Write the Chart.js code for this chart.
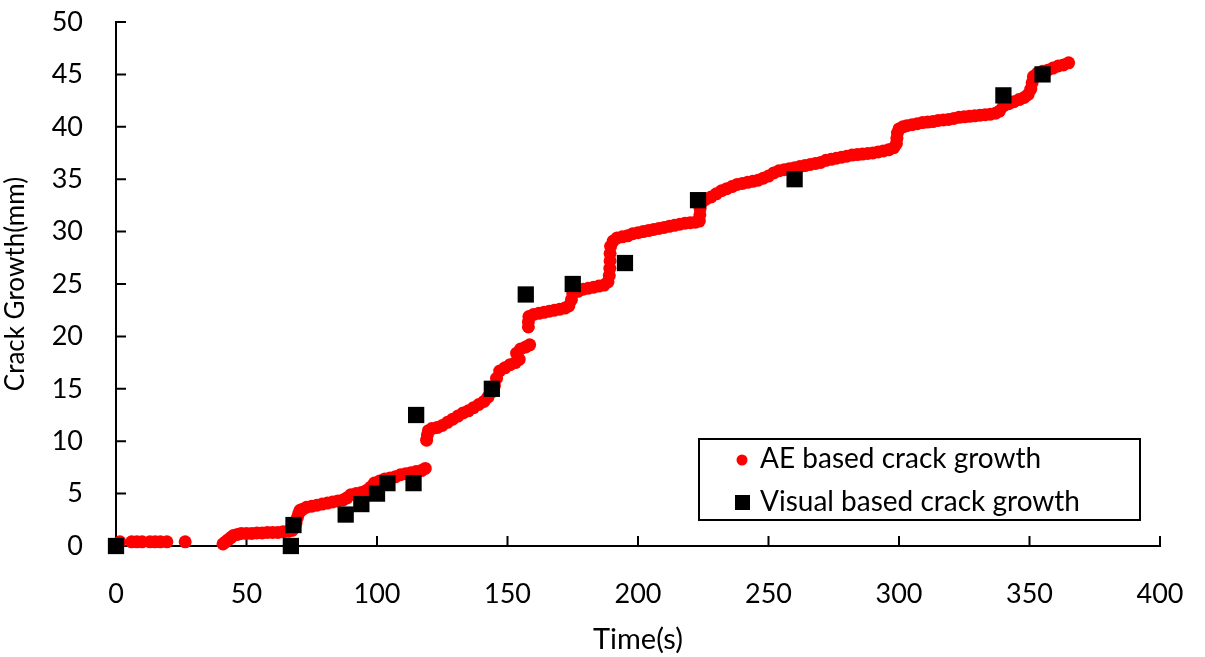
<!DOCTYPE html>
<html>
<head>
<meta charset="utf-8">
<script src="https://cdn.jsdelivr.net/npm/chart.js@4.4.1/dist/chart.umd.min.js"></script>
<style>
  html, body { margin: 0; padding: 0; background: #fff; }
  #wrap { width: 1205px; height: 657px; }
</style>
</head>
<body>
<div id="wrap"><canvas id="grafico"></canvas></div>
<script>
// Crecimiento de grieta medido por emisión acústica (AE)
const aeTime = [
  1.5, 6, 8, 10, 13, 15, 17, 19.5, 26.5,
  41, 42, 43, 44, 45, 46.5, 48, 50, 52, 54, 56, 58, 60, 62, 64, 66, 67.5, 68.5, 69, 69.5, 70, 70.5,
  71.5, 73, 75, 77, 79, 81, 83, 85, 87, 88.5, 90, 92, 94, 96, 97.5, 99, 101, 103, 105, 107, 109, 111, 113, 115, 117, 118.5,
  119, 119.3, 119.7, 121, 123, 125, 127, 129, 131, 133, 135, 137, 139, 141, 142.5, 144, 145, 145.8, 147, 149, 151, 153, 154.5, 153.5, 155, 157, 158.5,
  158, 158, 158.2, 160, 162, 164, 166, 168, 170, 172, 173.5, 174.5, 175, 177, 179, 181, 183, 185, 187, 188.5, 189, 189.2, 189.3, 189.3, 189.5, 190.5, 192,
  194, 196, 198, 200, 202, 204, 206, 208, 210, 212, 214, 216, 218, 220, 222, 223.5, 223.7, 223.8, 224.5, 226, 228, 230, 232, 234, 236, 238,
  240, 242, 244, 246, 248, 250, 252, 254, 256, 258, 260, 262, 264, 266, 268, 270, 272, 274, 276, 278, 280, 282, 284, 286, 288, 290, 292, 294, 296, 298,
  299, 299.2, 299.4, 300, 301.5, 303, 305, 307, 309, 311, 313, 315, 317, 319, 321, 323, 325, 327, 329, 331, 333, 335, 337, 338.5,
  340, 342, 344, 346, 348, 349.5, 350.5, 351, 351.5, 353, 355, 357, 359, 361, 363, 365
];
const aeGrowth = [
  0.4, 0.4, 0.4, 0.4, 0.4, 0.4, 0.4, 0.4, 0.4,
  0.2, 0.4, 0.6, 0.8, 1.0, 1.1, 1.2, 1.2, 1.2, 1.25, 1.25, 1.3, 1.3, 1.3, 1.35, 1.4, 1.5, 1.8, 2.2, 2.7, 3.1, 3.4,
  3.5, 3.7, 3.8, 3.9, 4.0, 4.1, 4.2, 4.3, 4.4, 4.6, 4.9, 5.0, 5.1, 5.3, 5.6, 6.0, 6.2, 6.4, 6.5, 6.6, 6.8, 6.9, 7.0, 7.1, 7.2, 7.4,
  10.1, 10.6, 11.0, 11.2, 11.3, 11.5, 11.8, 12.1, 12.4, 12.7, 12.9, 13.2, 13.5, 13.8, 14.2, 14.7, 15.3, 16.0, 16.7, 17.0, 17.3, 17.5, 17.8, 18.4, 18.8, 19.0, 19.2,
  20.9, 21.4, 21.9, 22.1, 22.2, 22.3, 22.4, 22.5, 22.6, 22.7, 22.9, 23.5, 24.1, 24.3, 24.5, 24.6, 24.7, 24.8, 24.9, 25.2, 25.8, 26.5, 27.2, 27.9, 28.6, 29.1, 29.4,
  29.5, 29.6, 29.8, 29.9, 30.0, 30.1, 30.2, 30.3, 30.4, 30.5, 30.6, 30.7, 30.8, 30.85, 30.9, 31.0, 31.6, 32.2, 32.8, 33.1, 33.3, 33.6, 33.9, 34.1, 34.3, 34.5,
  34.6, 34.7, 34.8, 34.9, 35.1, 35.3, 35.6, 35.8, 35.9, 36.0, 36.1, 36.2, 36.3, 36.4, 36.5, 36.6, 36.8, 36.9, 37.0, 37.1, 37.2, 37.3, 37.35, 37.4, 37.45, 37.5, 37.6, 37.7, 37.8, 38.0,
  38.4, 38.9, 39.4, 39.8, 40.0, 40.1, 40.2, 40.3, 40.4, 40.45, 40.5, 40.6, 40.65, 40.7, 40.8, 40.9, 40.95, 41.0, 41.05, 41.1, 41.15, 41.2, 41.3, 41.5,
  42.0, 42.2, 42.4, 42.6, 42.8, 43.1, 43.6, 44.2, 44.8, 45.1, 45.3, 45.4, 45.6, 45.8, 45.9, 46.1
];

// Crecimiento de grieta medido visualmente
const visualTime = [0, 67, 68, 88, 94, 100, 104, 114, 115, 144, 157, 175, 195, 223, 260, 340, 355];
const visualGrowth = [0, 0, 2, 3, 4, 5, 6, 6, 12.5, 15, 24, 25, 27, 33, 35, 43, 45];

// Marcas de los ejes
const xTicks = [0, 50, 100, 150, 200, 250, 300, 350, 400];
const yTicks = [0, 5, 10, 15, 20, 25, 30, 35, 40, 45, 50];

const fuente = 'Lato, "DejaVu Sans", sans-serif';

const aePuntos = aeTime.map((t, i) => ({ x: t, y: aeGrowth[i] }));
const visualPuntos = visualTime.map((t, i) => ({ x: t, y: visualGrowth[i] }));

// Ticks hacia dentro del área del gráfico
const ticksInternos = {
  id: 'ticksInternos',
  beforeDatasetsDraw(chart) {
    const { ctx, scales: { x, y } } = chart;
    ctx.save();
    ctx.strokeStyle = '#000';
    ctx.lineWidth = 2;
    ctx.beginPath();
    xTicks.forEach(v => {
      const px = x.getPixelForValue(v);
      ctx.moveTo(px, y.bottom);
      ctx.lineTo(px, y.bottom - 10);
    });
    yTicks.forEach(v => {
      const py = y.getPixelForValue(v);
      ctx.moveTo(x.left, py);
      ctx.lineTo(x.left + 10, py);
    });
    ctx.stroke();
    ctx.restore();
  }
};

// Leyenda con recuadro dentro del gráfico
const leyenda = {
  id: 'leyenda',
  afterDraw(chart) {
    const ctx = chart.ctx;
    ctx.save();
    ctx.fillStyle = '#fff';
    ctx.fillRect(699, 439, 441, 81);
    ctx.strokeStyle = '#000';
    ctx.lineWidth = 2;
    ctx.strokeRect(699, 439, 441, 81);

    ctx.fillStyle = '#ff0000';
    ctx.beginPath();
    ctx.arc(742, 460, 5.5, 0, Math.PI * 2);
    ctx.fill();
    ctx.fillStyle = '#000';
    ctx.fillRect(735, 495, 15, 15);

    ctx.font = '28px ' + fuente;
    ctx.textBaseline = 'middle';
    ctx.textAlign = 'left';
    ctx.fillText('AE based crack growth', 760, 459);
    ctx.fillText('Visual based crack growth', 760, 502);
    ctx.restore();
  }
};

new Chart(document.getElementById('grafico'), {
  type: 'scatter',
  data: {
    datasets: [{
      label: 'Visual based crack growth',
      data: visualPuntos,
      pointStyle: 'rect',
      pointRadius: 11.5,
      backgroundColor: '#000',
      borderWidth: 0,
      clip: false,
      order: 0
    }, {
      label: 'AE based crack growth',
      data: aePuntos,
      pointStyle: 'circle',
      pointRadius: 6.5,
      backgroundColor: '#ff0000',
      borderWidth: 0,
      clip: false,
      order: 1
    }]
  },
  options: {
    responsive: true,
    maintainAspectRatio: false,
    animation: false,
    layout: { padding: { top: 22, right: 45, left: 0, bottom: 0 } },
    plugins: {
      legend: { display: false },
      tooltip: { enabled: false }
    },
    scales: {
      x: {
        type: 'linear',
        min: 0,
        max: 400,
        afterFit(scale) {
          scale.height = 111;
          scale.paddingLeft = 0;
          scale.paddingRight = 0;
        },
        afterBuildTicks(scale) { scale.ticks = xTicks.map(v => ({ value: v })); },
        grid: { display: false, drawTicks: false },
        border: { display: true, color: '#000', width: 2 },
        ticks: { color: '#000', padding: 32, font: { family: fuente, size: 27 } },
        title: {
          display: true,
          text: 'Time(s)',
          color: '#000',
          padding: 0,
          font: { family: fuente, size: 29 }
        }
      },
      y: {
        type: 'linear',
        min: 0,
        max: 50,
        afterFit(scale) {
          scale.width = 116;
          scale.paddingTop = 0;
          scale.paddingBottom = 0;
        },
        afterBuildTicks(scale) { scale.ticks = yTicks.map(v => ({ value: v })); },
        grid: { display: false, drawTicks: false },
        border: { display: true, color: '#000', width: 2 },
        ticks: { color: '#000', padding: 33, font: { family: fuente, size: 27 } },
        title: {
          display: true,
          text: 'Crack Growth(mm)',
          color: '#000',
          padding: { top: 0, bottom: 9 },
          font: { family: fuente, size: 26 }
        }
      }
    }
  },
  plugins: [ticksInternos, leyenda]
});
</script>
</body>
</html>
